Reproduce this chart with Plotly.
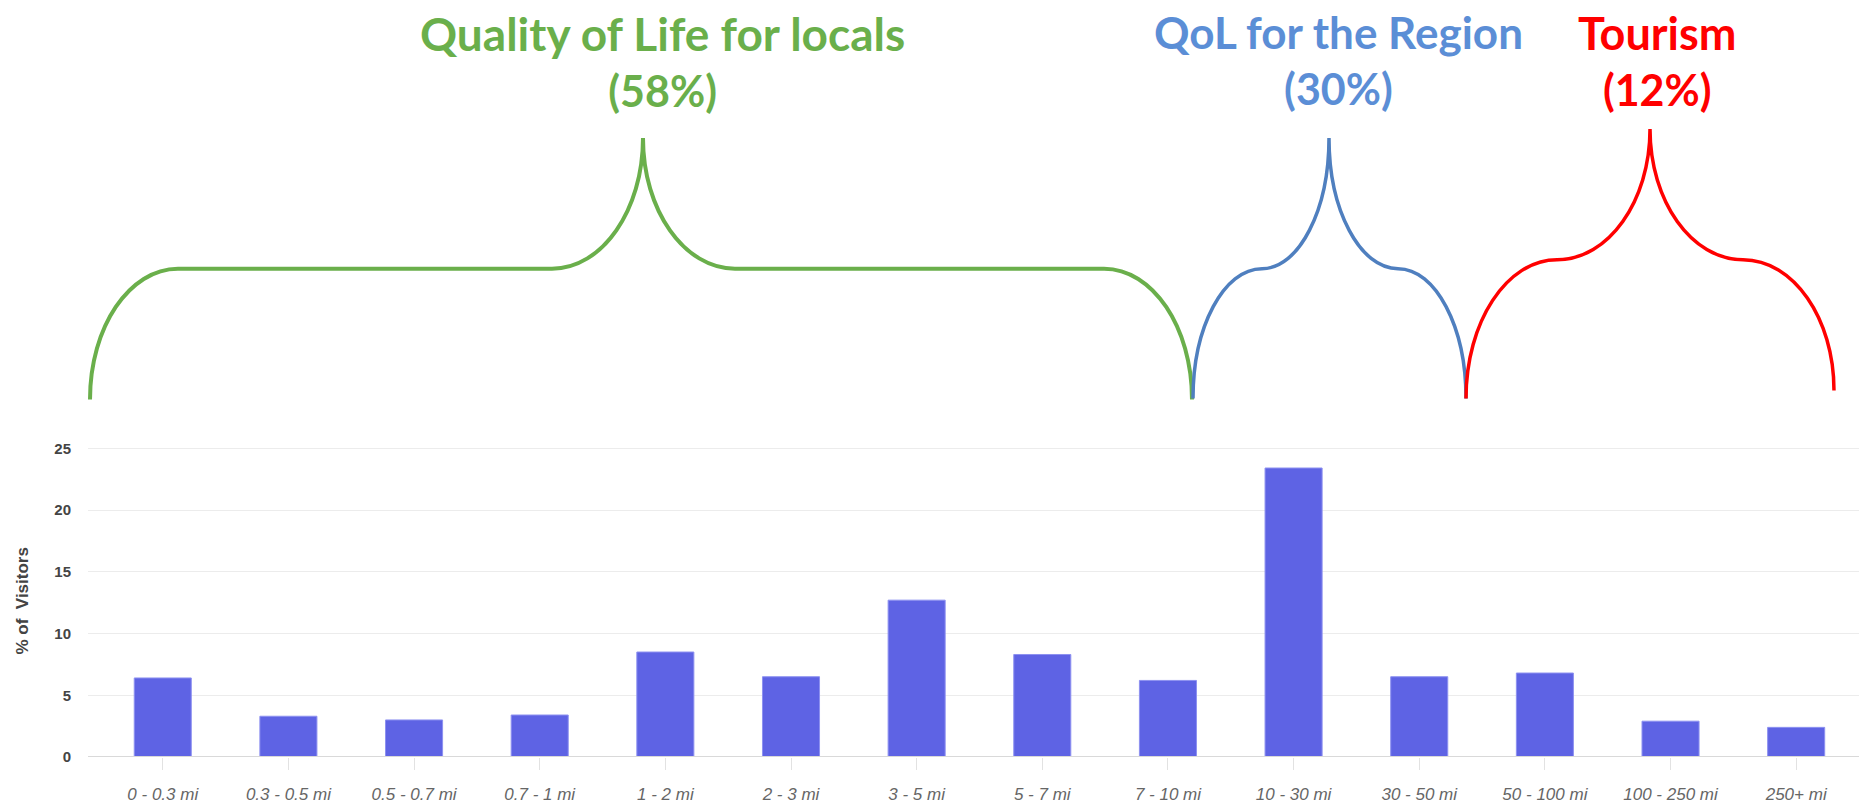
import plotly.graph_objects as go

# ---------------- data ----------------
categories = ["0 - 0.3 mi", "0.3 - 0.5 mi", "0.5 - 0.7 mi", "0.7 - 1 mi", "1 - 2 mi",
              "2 - 3 mi", "3 - 5 mi", "5 - 7 mi", "7 - 10 mi", "10 - 30 mi",
              "30 - 50 mi", "50 - 100 mi", "100 - 250 mi", "250+ mi"]
visitors_pct = [6.4, 3.3, 3.0, 3.4, 8.5, 6.5, 12.7, 8.3, 6.2, 23.4, 6.5, 6.8, 2.9, 2.4]
y_ticks = [0, 5, 10, 15, 20, 25]
group_titles = ["Quality of Life for locals", "QoL for the Region", "Tourism"]
group_shares = ["(58%)", "(30%)", "(12%)"]

# ---------------- layout geometry (pixels) ----------------
W, H = 1864, 809
ML, MR, MT, MB = 88, 5, 443, 49
PW = W - ML - MR
PH = H - MT - MB
PX_PER_UNIT = 12.468


def px(x):
    return (x - ML) / PW


def py(y):
    return (H - MB - y) / PH


K = 0.5523


def seg(a, b, start):
    ax, ay = a
    bx, by = b
    if start == "v":
        c1 = (ax, ay + K * (by - ay))
        c2 = (bx - K * (bx - ax), by)
    else:
        c1 = (ax + K * (bx - ax), ay)
        c2 = (bx, by - K * (by - ay))
    pts = [c1, c2, b]
    return "C " + " ".join(f"{px(x):.5f},{py(y):.5f}" for x, y in pts)


def build(spec):
    cur = spec[0]
    p = f"M {px(cur[0]):.5f},{py(cur[1]):.5f} "
    for kind, pt in spec[1:]:
        if kind == "L":
            p += f"L {px(pt[0]):.5f},{py(pt[1]):.5f} "
        else:
            p += seg(cur, pt, kind) + " "
        cur = pt
    return p


green = "#6AAF4B"
blue_line = "#4F7FBF"
blue_text = "#5B8ED6"
red = "#FF0000"

green_spec = [(90, 399), ("v", (178, 267)), ("L", (552, 267)), ("h", (643, 135)),
              ("v", (735, 267)), ("L", (1104, 267)), ("h", (1192, 399))]
blue_spec = [(1193, 398), ("v", (1262, 267)), ("h", (1329, 135)),
             ("v", (1398, 267)), ("h", (1466, 398))]
red_spec = [(1466, 398), ("v", (1557, 258)), ("h", (1650, 126)),
            ("v", (1743, 258)), ("h", (1834, 390))]

fig = go.Figure()
fig.add_trace(go.Bar(
    x=categories, y=visitors_pct,
    marker=dict(color="#5E63E4", line=dict(color="#8D91F0", width=1)),
    width=0.454, hoverinfo="x+y",
))

shapes = [
    dict(type="path", xref="paper", yref="paper", path=build(green_spec),
         line=dict(color=green, width=4)),
    dict(type="path", xref="paper", yref="paper", path=build(blue_spec),
         line=dict(color=blue_line, width=3.5)),
    dict(type="path", xref="paper", yref="paper", path=build(red_spec),
         line=dict(color=red, width=3.5)),
    dict(type="line", xref="x", yref="y", x0=-0.595, x1=13.5, y0=0, y1=0,
         line=dict(color="#d9d9d9", width=2), layer="above"),
]

annotations = []
label_pos = [(662, 46, green), (1338, 44, blue_text), (1657, 45, red)]
for title, share, (xc, s1, col) in zip(group_titles, group_shares, label_pos):
    annotations.append(dict(
        text=f"<span style='font-size:{s1}px'>{title}</span><br>{share}",
        x=px(xc), y=py(0.5), xref="paper", yref="paper",
        xanchor="center", yanchor="top", align="center", showarrow=False, borderpad=0,
        font=dict(family="Lato", size=43, weight="bold", color=col)))

annotations.append(dict(text="% of  Visitors", x=px(22), y=py(603), xref="paper", yref="paper",
                        xanchor="center", yanchor="middle", textangle=-90, showarrow=False,
                        font=dict(family="Liberation Sans", size=17, weight="bold", color="#444444")))

fig.update_layout(
    width=W, height=H,
    margin=dict(l=ML, r=MR, t=MT, b=MB),
    paper_bgcolor="white", plot_bgcolor="white",
    showlegend=False,
    shapes=shapes,
    annotations=annotations,
    xaxis=dict(
        type="category", range=[-0.595, 13.5],
        showgrid=False, zeroline=False, showline=False,
        ticks="outside", ticklen=12, tickcolor="#e2e2e2", tickwidth=1,
        tickfont=dict(family="Liberation Sans", size=17, style="italic", color="#666666"),
        ticklabelstandoff=10,
    ),
    yaxis=dict(
        range=[0, PH / PX_PER_UNIT], tickvals=y_ticks,
        showgrid=True, gridcolor="#ececec", gridwidth=1,
        zeroline=False, showline=False, ticks="",
        tickfont=dict(family="Liberation Sans", size=15, weight="bold", color="#444444"),
        ticklabelstandoff=16,
    ),
)

fig.write_html("out.html", config={"displayModeBar": False},
               post_script="document.body.style.margin='0';")
